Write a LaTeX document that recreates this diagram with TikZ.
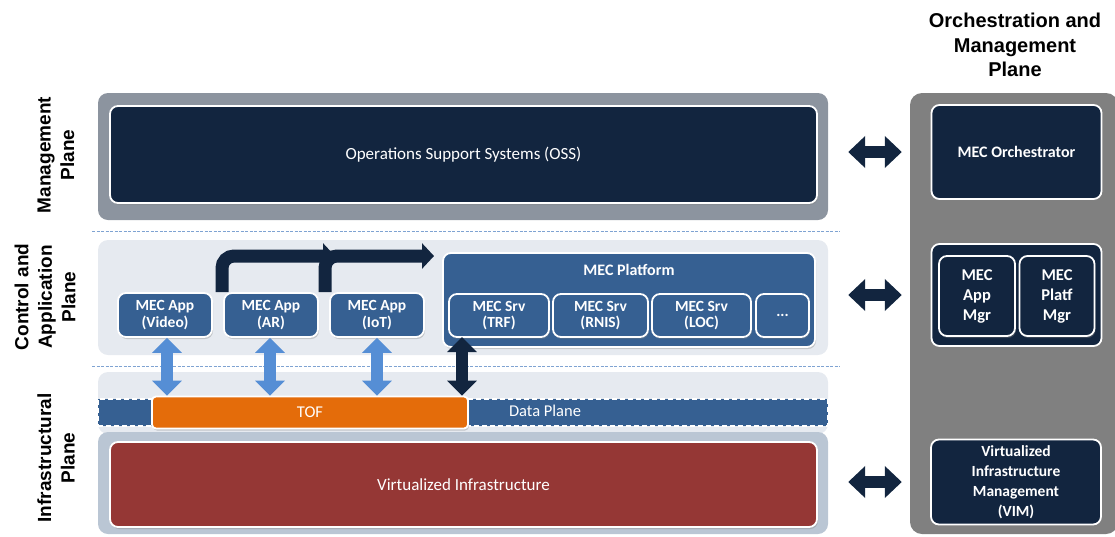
\documentclass[tikz,border=0pt]{standalone}
\usepackage{fontspec}
\setmainfont{Carlito}
\newfontfamily\headfont{Liberation Sans}
\usetikzlibrary{arrows.meta,shadows}

\definecolor{navy}{HTML}{12253F}
\definecolor{steel}{HTML}{366092}
\definecolor{brick}{HTML}{953735}
\definecolor{tofor}{HTML}{E46C0A}
\definecolor{pale}{HTML}{E6EAF0}
\definecolor{mgmtgray}{HTML}{8C949F}
\definecolor{infragray}{HTML}{BAC6D4}
\definecolor{panelgray}{HTML}{808080}
\definecolor{skyarrow}{HTML}{558ED5}
\definecolor{sepline}{HTML}{7FA3D2}

\begin{document}
\begin{tikzpicture}[x=1pt,y=-1pt,
  bg/.style={rounded corners=10pt, inner sep=0pt},
  box/.style={rounded corners=8pt, draw=white, line width=1.8pt, text=white,
    align=center, inner sep=0pt,
    drop shadow={shadow xshift=1pt, shadow yshift=-2pt, opacity=.35}},
  boxtxt/.style={font=\bfseries\fontsize{15.5}{16.5}\selectfont},
  plainboxtxt/.style={font=\fontsize{17}{19}\selectfont},
  planelabel/.style={rotate=90, align=center, font=\headfont\bfseries\fontsize{19}{23.5}\selectfont},
  sep/.style={draw=sepline, line width=1pt, dash pattern=on 3pt off 1.5pt},
  vdbl/.style={line width=12pt, {Triangle[width=29pt,length=15pt]}-{Triangle[width=29pt,length=15pt]}},
  hdbl/.style={line width=12pt, draw=navy, {Triangle[width=31pt,length=17pt]}-{Triangle[width=31pt,length=17pt]}},
  elbowarrow/.style={line width=13pt, draw=navy, rounded corners=12pt, -{Triangle[width=25pt,length=12pt]}}
]
\useasboundingbox (0,0) rectangle (1115,536);

% ---------------- Management plane ----------------
\node[bg, fill=mgmtgray, minimum width=730pt, minimum height=127pt] (mgmtbg) at (463,156.5) {};
\node[box, fill=navy, plainboxtxt, minimum width=707pt, minimum height=97pt] (oss) at (463.5,154.5)
  {Operations Support Systems (OSS)};

\draw[sep] (92,231) coordinate (s1a) -- (840,231) coordinate (s1b);

% ---------------- Control and application plane ----------------
\node[bg, fill=pale, minimum width=730pt, minimum height=115pt] (ctrlbg) at (463,297.5) {};

\node[box, fill=steel, boxtxt, minimum width=94pt, minimum height=44pt] (vid) at (165,315) {MEC App\\(Video)};
\node[box, fill=steel, boxtxt, minimum width=94pt, minimum height=44pt] (ar)  at (271,315) {MEC App\\(AR)};
\node[box, fill=steel, boxtxt, minimum width=94pt, minimum height=44pt] (iot) at (377,315) {MEC App\\(IoT)};

\node[box, fill=steel, minimum width=372pt, minimum height=94pt] (plat) at (629,300) {};
\node[text=white, font=\bfseries\fontsize{16}{18}\selectfont] (plattitle) at (629,270) {MEC Platform};
\node[box, fill=steel, boxtxt, minimum width=100pt, minimum height=43pt] (trf)  at (499,315.5) {MEC Srv\\(TRF)};
\node[box, fill=steel, boxtxt, minimum width=95pt, minimum height=43pt]  (rnis) at (600.5,315.5) {MEC Srv\\(RNIS)};
\node[box, fill=steel, boxtxt, minimum width=99pt, minimum height=43pt]  (loc)  at (701.5,315.5) {MEC Srv\\(LOC)};
\node[box, fill=steel, boxtxt, minimum width=53pt, minimum height=43pt]  (more) at (782.5,315.5) {...};

% bent arrows from the AR and IoT apps towards the platform
\coordinate (arup) at (222,256);
\coordinate (iotup) at (325,256);
\coordinate (toplat) at (434,256);
\draw[elbowarrow] (ar.north -| arup) -- (arup) -- ([xshift=10pt]iotup);
\draw[elbowarrow] (iot.north -| iotup) -- (iotup) -- (toplat);

\draw[sep] (92,366) coordinate (s2a) -- (840,366) coordinate (s2b);

% ---------------- Infrastructural plane ----------------
\node[bg, fill=pale, minimum width=730pt, minimum height=62pt] (infratop) at (463,403) {};
\node[bg, fill=infragray, minimum width=730pt, minimum height=102pt] (infrabg) at (463,483) {};
\node[box, fill=brick, plainboxtxt, minimum width=707pt, minimum height=85pt] (virt) at (463.5,484.5)
  {Virtualized Infrastructure};

\node[fill=steel, draw=white, line width=1.5pt, dash pattern=on 5pt off 3pt,
      minimum width=730pt, minimum height=27pt, inner sep=0pt] (dp) at (463,412.5) {};
\node[text=white, font=\fontsize{16.5}{18}\selectfont] (dptxt) at (545,411) {Data Plane};
\node[box, fill=tofor, rounded corners=4pt, font=\fontsize{16.5}{18}\selectfont, minimum width=316pt, minimum height=32pt] (tof) at (310,412.5) {TOF};

% vertical links between apps / platform and the traffic offload function
\draw[vdbl, draw=skyarrow] ([xshift=2pt]vid.south) -- ([xshift=2pt]vid.south |- tof.north);
\draw[vdbl, draw=skyarrow] ([xshift=-1pt]ar.south) -- ([xshift=-1pt]ar.south |- tof.north);
\draw[vdbl, draw=skyarrow] (iot.south) -- (iot.south |- tof.north);
\coordinate (platlink) at (462,337);
\draw[vdbl, draw=navy] (platlink) -- (platlink |- tof.north);

% ---------------- Orchestration and management plane ----------------
\node[rounded corners=12pt, fill=panelgray, minimum width=208pt, minimum height=441pt, inner sep=0pt] (panel) at (1014,313.5) {};
\node[align=center, font=\headfont\bfseries\fontsize{20}{24.5}\selectfont] (ptitle) at (1015,45)
  {Orchestration and\\Management\\Plane};

\node[box, fill=navy, font=\bfseries\fontsize{16}{18}\selectfont, minimum width=170pt, minimum height=94pt] (orch) at (1016.5,152) {MEC Orchestrator};
\node[box, fill=navy, minimum width=170pt, minimum height=102pt] (mgr) at (1016.5,295) {};
\node[box, fill=navy, font=\bfseries\fontsize{16.5}{20}\selectfont, minimum width=76pt, minimum height=80pt] (appmgr) at (977,296) {MEC\\App\\Mgr};
\node[box, fill=navy, font=\bfseries\fontsize{16.5}{20}\selectfont, minimum width=75pt, minimum height=80pt] (platmgr) at (1057,296) {MEC\\Platf\\Mgr};
\node[box, fill=navy, font=\bfseries\fontsize{15.5}{20}\selectfont, minimum width=170pt, minimum height=85pt] (vim) at (1016,482)
  {Virtualized\\Infrastructure\\Management\\(VIM)};

% links between the planes and orchestration
\draw[hdbl] ([xshift=20pt]mgmtbg.east |- orch.west) -- ([xshift=-8pt]panel.west |- orch.west);
\draw[hdbl] ([xshift=20pt]ctrlbg.east |- mgr.west) -- ([xshift=-8pt]panel.west |- mgr.west);
\draw[hdbl] ([xshift=20pt]infrabg.east |- vim.west) -- ([xshift=-8pt]panel.west |- vim.west);

% ---------------- plane labels ----------------
\node[planelabel] (lmgmt) at (56,155) {Management\\Plane};
\node[planelabel] (lctrl) at (45,297) {Control and\\Application\\Plane};
\node[planelabel] (linfra) at (56,458) {Infrastructural\\Plane};
\end{tikzpicture}
\end{document}
